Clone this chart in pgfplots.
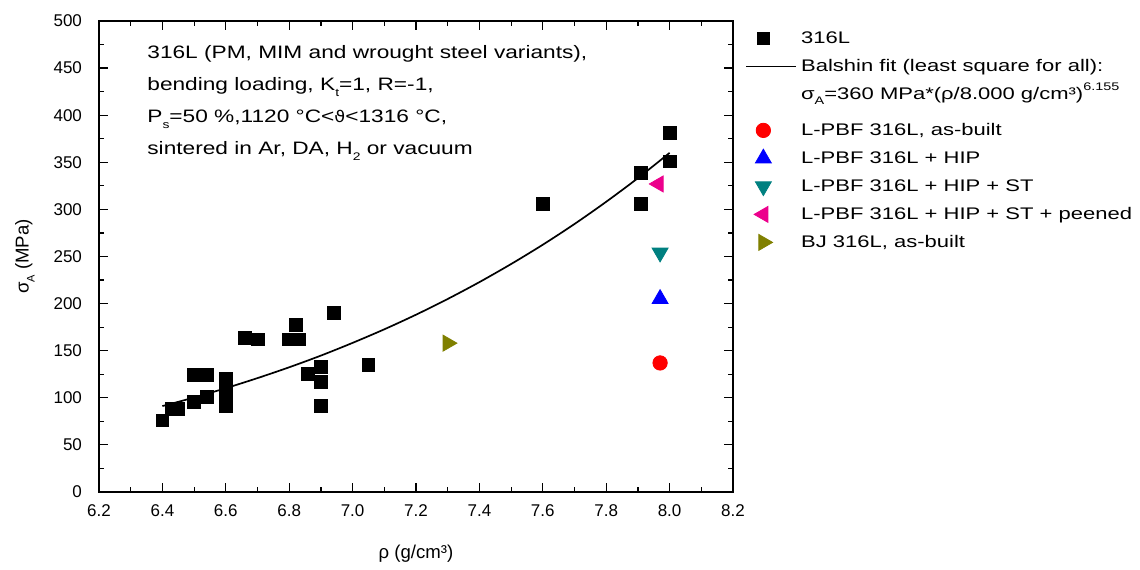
\documentclass[border=0pt]{standalone}
\usepackage{fontspec}
\setmainfont{Liberation Sans}
\newfontfamily\dejavu{DejaVu Sans}
\newfontfamily\widefont[FakeStretch=1.31]{Liberation Sans}
\newfontfamily\wideannot[FakeStretch=1.26]{Liberation Sans}
\newfontfamily\widedejavu[FakeStretch=1.1]{DejaVu Sans}
\usepackage{pgfplots}
\pgfplotsset{compat=1.18}
\definecolor{tealc}{RGB}{0,128,128}
\definecolor{olivec}{RGB}{128,128,0}
\newcommand{\sbx}[1]{\raisebox{-0.6ex}{\fontsize{5.5pt}{6pt}\selectfont #1}}
\newcommand{\spx}[1]{\raisebox{0.95ex}{\fontsize{5.5pt}{6pt}\selectfont #1}}
\begin{document}
\begin{tikzpicture}[font=\fontsize{8.5pt}{10pt}\selectfont]
\begin{axis}[
  name=ax,
  scale only axis, width=317pt, height=235.5pt,
  xmin=6.2, xmax=8.2, ymin=0, ymax=500,
  xtick={6.2,6.4,6.6,6.8,7.0,7.2,7.4,7.6,7.8,8.0,8.2},
  ytick={0,50,100,150,200,250,300,350,400,450,500},
  minor x tick num=1, minor y tick num=1,
  tick align=inside,
  major tick length=4.5pt, minor tick length=2.5pt,
  axis line style={line width=0.8pt},
  every tick/.style={black, line width=0.6pt},
  x tick label style={yshift=-3pt, /pgf/number format/.cd, fixed, fixed zerofill, precision=1, assume math mode=true},
  y tick label style={xshift=-5pt, /pgf/number format/assume math mode=true},
  xlabel={ρ (g/cm³)}, ylabel={σ\sbx{A} (MPa)},
  xlabel style={at={(rel axis cs:0.5,-0.13)}, anchor=center, font=\fontsize{9.3pt}{11pt}\selectfont},
  ylabel style={at={(rel axis cs:-0.117,0.5)}, anchor=center, font=\fontsize{9.3pt}{11pt}\selectfont},
  legend style={at={(rel axis cs:1.019,0.9915)}, anchor=north west, draw=none, fill=none,
    inner sep=0pt, row sep=1pt,
    nodes={inner sep=2pt, text height=7pt, text depth=2pt, anchor=west, font=\widefont\fontsize{8.4pt}{10pt}\selectfont}},
  legend cell align=left,
]
\addplot[only marks, mark=square*, mark size=3.2pt, black] coordinates {
(6.40,76) (6.43,88) (6.45,88) (6.50,96) (6.54,101) (6.50,124) (6.54,124)
(6.60,120) (6.60,111) (6.60,103) (6.60,91)
(6.66,164) (6.70,162) (6.80,162) (6.83,162) (6.82,177) (6.94,190)
(6.86,125) (6.90,133) (6.90,117) (6.90,91) (7.05,135)
(7.60,306) (7.91,339) (7.91,306) (8.00,381) (8.00,351)
};
\addlegendentry{316L}
\addplot[black, line width=0.85pt, smooth, legend image code/.code={\draw[black, line width=0.85pt] (0pt,0pt)--(25pt,0pt);}] coordinates {
(6.4,91.2) (6.5,100.3) (6.6,110.2) (6.7,120.9) (6.8,132.4) (6.9,144.8) (7.0,158.3)
(7.1,172.7) (7.2,188.2) (7.3,204.9) (7.4,222.8) (7.5,242.0) (7.6,262.5) (7.7,284.5)
(7.8,308.1) (7.9,333.2) (8.0,360.0)
};
\addlegendentry{Balshin fit (least square for all):}
\addlegendimage{empty legend}
\addlegendentry[text depth=6pt]{σ\sbx{A}=360 MPa*(ρ/8.000 g/cm³)\spx{6.155}}
\addplot[only marks, mark=*, mark size=3.6pt, red] coordinates {(7.97,137)};
\addlegendentry{L-PBF 316L, as-built}
\addplot[only marks, mark=triangle*, mark size=4.6pt, blue] coordinates {(7.97,205)};
\addlegendentry{L-PBF 316L + HIP}
\addplot[only marks, mark=triangle*, mark size=4.6pt, tealc, mark options={rotate=180}] coordinates {(7.97,254)};
\addlegendentry{L-PBF 316L + HIP + ST}
\addplot[only marks, mark=triangle*, mark size=4.6pt, magenta, mark options={rotate=90}] coordinates {(7.965,327)};
\addlegendentry{L-PBF 316L + HIP + ST + peened}
\addplot[only marks, mark=triangle*, mark size=4.6pt, olivec, mark options={rotate=-90}] coordinates {(7.30,158)};
\addlegendentry{BJ 316L, as-built}
\node[anchor=north west, align=left, inner sep=0pt, font=\wideannot\fontsize{9pt}{16pt}\selectfont]
  at (rel axis cs:0.0757,0.949)
  {316L (PM, MIM and wrought steel variants),\\
   bending loading, K\sbx{t}=1, R=-1,\\
   P\sbx{s}=50 \%,1120 °C<{\widedejavu\fontsize{8pt}{16pt}\selectfont ϑ}<1316 °C,\\
   sintered in Ar, DA, H\sbx{2} or vacuum};
\end{axis}
\path ([shift={(-49.5pt,-39pt)}]ax.south west) rectangle ([shift={(203.5pt,10.5pt)}]ax.north east);
\end{tikzpicture}
\end{document}
